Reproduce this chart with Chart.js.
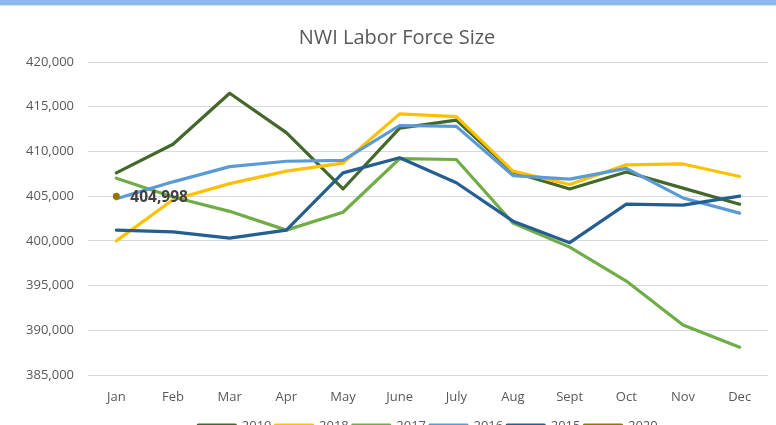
<!DOCTYPE html>
<html>
<head>
<meta charset="utf-8">
<script src="https://cdn.jsdelivr.net/npm/chart.js@4.4.1/dist/chart.umd.min.js"></script>
<style>
  html, body { margin: 0; padding: 0; background: #fff; overflow: hidden; }
</style>
</head>
<body>
<canvas id="chart" width="776" height="443"></canvas>
<script>
const months = ["Jan", "Feb", "Mar", "Apr", "May", "June", "July", "Aug", "Sept", "Oct", "Nov", "Dec"]
const years = ["2019", "2018", "2017", "2016", "2015", "2020"]
const force2019 = [407600, 410800, 416500, 412100, 405800, 412600, 413500, 407700, 405800, 407700, 405900, 404100]
const force2018 = [400000, 404600, 406400, 407800, 408700, 414200, 413900, 407800, 406300, 408500, 408600, 407200]
const force2017 = [407000, 404900, 403300, 401200, 403200, 409200, 409100, 402000, 399300, 395500, 390600, 388100]
const force2016 = [404700, 406600, 408300, 408900, 409000, 412900, 412800, 407300, 406900, 408100, 404800, 403100]
const force2015 = [401200, 401000, 400300, 401200, 407600, 409300, 406500, 402200, 399800, 404100, 404000, 405000]
const force2020 = [404998, null, null, null, null, null, null, null, null, null, null, null]
const yMin = 385000
const yMax = 420000
const yStep = 5000

const colors = ["#43682B", "#FFC000", "#70AD47", "#5B9BD5", "#255E91", "#997300"]
const series = [force2019, force2018, force2017, force2016, force2015, force2020]

Chart.defaults.font.family = "'Open Sans', sans-serif"
Chart.defaults.color = "#595959"

// white background and the thin blue band along the top
const frame = {
  id: "frame",
  beforeDraw(chart) {
    const { ctx, width } = chart
    ctx.save()
    ctx.fillStyle = "#fff"
    ctx.fillRect(0, 0, width, chart.height)
    ctx.fillStyle = "#8DB8F0"
    ctx.fillRect(0, 0, width, 5)
    ctx.fillStyle = "#D6E4F8"
    ctx.fillRect(0, 5, width, 1)
    ctx.restore()
  }
}

// value label next to the single 2020 point
const pointLabel = {
  id: "pointLabel",
  afterDatasetsDraw(chart) {
    const index = years.indexOf("2020")
    const meta = chart.getDatasetMeta(index)
    const ctx = chart.ctx
    meta.data.forEach((point, i) => {
      const value = series[index][i]
      if (value == null) return
      ctx.save()
      ctx.font = "bold 15.5px 'Open Sans'"
      ctx.fillStyle = "#404040"
      ctx.textBaseline = "middle"
      ctx.fillText(value.toLocaleString("en-US"), point.x + 14, point.y + 1)
      ctx.restore()
    })
  }
}

const datasets = years.map((year, i) => ({
  label: year,
  data: series[i],
  borderColor: colors[i],
  backgroundColor: colors[i],
  borderWidth: 3.2,
  borderJoinStyle: "round",
  borderCapStyle: "round",
  pointRadius: year === "2020" ? 3.5 : 0,
  pointBorderWidth: 0,
  tension: 0,
  order: years.length - i
}))

new Chart(document.getElementById("chart"), {
  type: "line",
  data: { labels: months, datasets },
  plugins: [frame, pointLabel],
  options: {
    responsive: false,
    animation: false,
    devicePixelRatio: 1,
    layout: { padding: { left: 26, right: 8, top: 0, bottom: 0 } },
    plugins: {
      title: {
        display: true,
        text: "NWI Labor Force Size",
        color: "#595959",
        font: { size: 20, weight: "normal" },
        padding: { top: 26, bottom: 12 }
      },
      legend: {
        position: "bottom",
        fullSize: false,
        labels: {
          boxWidth: 37,
          boxHeight: 3,
          padding: 4,
          color: "#595959",
          font: { size: 13 },
          sort: (a, b) => a.datasetIndex - b.datasetIndex
        }
      },
      tooltip: { enabled: false }
    },
    scales: {
      x: {
        offset: true,
        grid: { display: false, drawTicks: false },
        border: { display: false },
        ticks: { padding: 14, font: { size: 13 }, color: "#595959" },
        afterFit: (scale) => { scale.height = 41 }
      },
      y: {
        min: yMin,
        max: yMax,
        grid: { color: "#D9D9D9", lineWidth: 1, drawTicks: false },
        border: { display: false },
        ticks: {
          stepSize: yStep,
          padding: 14,
          font: { size: 13 },
          color: "#595959",
          callback: (value) => value.toLocaleString("en-US")
        },
        afterFit: (scale) => { scale.width = 62 }
      }
    }
  }
})
</script>
</body>
</html>
